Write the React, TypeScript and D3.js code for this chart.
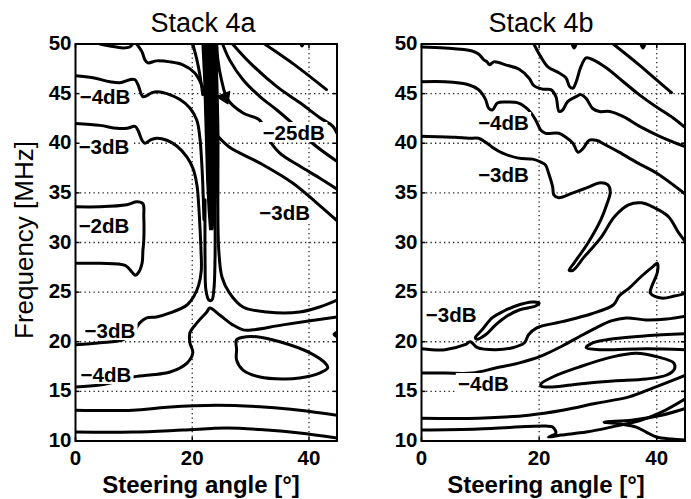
import React from 'react';
import * as d3 from 'd3';

type Pt = [number, number];

// ---------- axes ----------
const xTicks = [0, 20, 40];
const yTicks = [10, 15, 20, 25, 30, 35, 40, 45, 50];
const xGrid = [20, 40];
const yGrid = [15, 20, 25, 30, 35, 40, 45];
const xDomain: [number, number] = [0, 44.8];
const yDomain: [number, number] = [10, 50];

// ---------- Stack 4a contours (angle [deg], frequency [MHz]) ----------
const a_dip: Pt[] = [[4.2, 50], [5.9, 49.8], [8.1, 49.6], [9.3, 49.7], [9.8, 50]];
const a_b: Pt[] = [[10.5, 50], [11.4, 49.2], [11.9, 48.4], [12.4, 48.1], [13.9, 48.3], [16.2, 48.2], [18.4, 47.9], [20.4, 47.1], [21.6, 45.9], [22.5, 44.4], [22.8, 41.6], [23.0, 39.3], [23.2, 36.0], [23.4, 32.3]];
const a_e: Pt[] = [[20.1, 50], [20.8, 48.4], [21.3, 46.9], [21.8, 44.9]];
const a_m4up: Pt[] = [[0, 46.8], [3.0, 46.6], [5.9, 46.2], [7.6, 46.1], [9.3, 46.4], [10.2, 46.4], [10.7, 45.9], [11.55, 44.7], [12.2, 44.8], [13.1, 45.1], [14.1, 45.2], [15.65, 45.0], [17.9, 44.4], [19.6, 43.55], [20.8, 42.3], [21.3, 40.6], [21.6, 38.3], [21.8, 36.0], [22.0, 32.3]];
const a_m3outer: Pt[] = [[0, 42.0], [4.2, 41.8], [7.1, 41.5], [8.8, 41.5], [10.2, 41.7], [10.7, 41.3], [11.4, 40.3], [11.9, 40.0], [12.75, 40.3], [13.9, 40.5], [15.65, 40.3], [17.4, 39.7], [19.1, 38.6], [20.1, 37.5], [20.8, 35.8], [21.1, 33.8], [21.3, 31.8], [21.5, 29.2], [21.55, 27.2], [21.1, 25.7], [20.3, 24.6], [19.1, 23.7], [16.2, 22.9], [13.9, 22.5], [12.2, 22.4], [11.0, 21.9], [9.8, 20.9], [8.1, 20.2], [4.2, 19.9], [0, 19.7]];
const a_spikeRight: Pt[] = [[24.0, 50], [24.2, 46.4], [24.4, 41.3], [24.4, 36.3], [24.4, 32.3], [24.55, 29.2], [25.1, 26.5], [26.4, 24.9], [28.7, 23.5], [32.8, 23.0], [38.4, 23.0], [41.8, 23.5], [44.8, 24.2]];
const a_innerU: Pt[] = [[22.2, 34.3], [22.2, 28.2], [22.35, 25.2], [22.85, 24.2], [23.35, 24.2], [23.7, 25.2], [23.9, 28.2], [23.9, 34.3]];
const a_lineA: Pt[] = [[24.2, 50], [24.4, 48.4], [25.0, 46.4], [26.1, 44.4], [28.7, 43.05], [31.6, 42.3], [33.0, 40.5], [35.0, 39.0], [38.4, 37.7], [41.8, 36.5], [45, 35.3]];
const a_lineB: Pt[] = [[25.2, 50], [26.4, 48.4], [28.7, 46.4], [31.6, 44.7], [34.5, 43.35], [37.9, 41.6], [40.6, 40.0], [45, 38.1]];
const a_lineC: Pt[] = [[26.9, 50], [29.9, 48.1], [34.5, 45.7], [38.4, 44.1], [41.8, 42.6], [44.1, 41.7], [44.8, 41.0]];
const a_lineD: Pt[] = [[32.4, 50], [37.55, 47.9], [43.0, 45.4]];
const a_m3right: Pt[] = [[24.4, 40.7], [26.4, 39.6], [31.6, 38.0], [37.2, 36.0], [41.3, 34.0], [45, 32.1]];
const a_m2: Pt[] = [[0, 33.6], [4.2, 33.6], [8.8, 33.8], [10.5, 34.1], [11.55, 33.9], [11.7, 32.6], [11.7, 30.25], [11.55, 29.2], [11.4, 27.9], [10.7, 26.9], [10.2, 26.7], [9.7, 27.0], [8.5, 27.7], [4.2, 27.9], [0, 27.9]];
const a_m4low: Pt[] = [[0, 15.45], [4.2, 15.65], [8.1, 16.15], [9.8, 16.45], [12.75, 16.65], [16.2, 16.95], [19.1, 17.85], [20.1, 18.9], [19.6, 19.9], [19.6, 20.9], [20.8, 21.9], [22.5, 23.0], [23.0, 23.4], [24.7, 22.7], [26.95, 21.7], [28.7, 21.2], [30.4, 21.2], [35.5, 21.7], [44.8, 22.5]];
const a_low1: Pt[] = [[0, 13.1], [9.8, 13.1], [15.65, 13.4], [24.2, 13.6], [32.8, 13.4], [38.4, 13.1], [44.8, 12.6]];
const a_low2: Pt[] = [[0, 10.9], [9.8, 10.9], [18.4, 11.1], [25.9, 11.3], [32.8, 11.1], [38.4, 10.8], [44.8, 10.3]];
const a_edgeLoop: Pt[] = [[44.9, 21.0], [44.3, 20.75], [44.9, 20.45]];
const a_topDot: Pt[] = [[38.6, 50], [38.8, 49.8], [39.0, 50]];
// closed
const a_island: Pt[] = [[27.6, 20.2], [29.3, 20.5], [31.05, 20.5], [35.0, 20.0], [40.1, 18.9], [43.0, 17.7], [43.2, 17.35], [41.8, 16.85], [38.4, 16.35], [35.5, 16.25], [31.6, 16.45], [28.7, 17.15], [27.6, 18.15], [27.6, 19.2]];
// filled (dense overlapping contours)
const a_band: Pt[] = [[21.7, 50], [22.0, 46.4], [22.25, 41.3], [22.5, 36.3], [22.75, 33.3], [23.0, 31.3], [23.5, 31.3], [23.95, 33.3], [24.3, 36.3], [24.3, 41.3], [24.3, 46.4], [24.2, 50]];
const a_arrow: Pt[] = [[24.2, 44.7], [26.4, 45.2], [26.1, 44.0]];

const a_labelText = ['−4dB', '−3dB', '−2dB', '−25dB', '−3dB', '−3dB', '−4dB'];
const a_labelPos: Pt[] = [[5.06, 44.66], [4.88, 39.72], [4.88, 31.76], [37.38, 41.13], [35.84, 33.07], [5.9, 21.18], [5.22, 16.75]];

// ---------- Stack 4b contours ----------
const b_topR: Pt[] = [[32.6, 50], [37.0, 47.9], [40.5, 46.1], [42.5, 45.1]];
const b_V: Pt[] = [[19.1, 50], [20.3, 48.7], [21.5, 47.7], [23.35, 47.1], [24.55, 46.6], [25.2, 45.7], [25.75, 45.55], [26.3, 46.2], [27.1, 47.7], [28.0, 48.6], [29.2, 48.4], [31.4, 47.6], [34.3, 46.2], [37.0, 44.9], [39.95, 43.65], [42.9, 42.5], [45, 41.5]];
const b_top: Pt[] = [[0, 49.7], [4.0, 49.6], [8.6, 49.3], [9.7, 49.0], [10.6, 48.4], [11.15, 48.2], [11.55, 47.9], [12.3, 48.2], [14.3, 47.9], [16.6, 47.45], [18.3, 46.55], [19.1, 45.8], [20.6, 45.45], [22.0, 45.4], [22.85, 44.7], [23.4, 43.2], [24.0, 43.35], [24.85, 44.2], [26.3, 44.7], [27.1, 44.9], [28.0, 44.5], [29.1, 43.5], [30.25, 43.2], [32.0, 43.2], [34.25, 42.7], [37.1, 41.7], [40.5, 40.7], [44.8, 39.65]];
const b_m4: Pt[] = [[0, 46.2], [4.0, 46.2], [8.0, 45.9], [9.7, 45.4], [10.9, 44.4], [11.4, 43.55], [12.05, 43.35], [12.9, 44.05], [14.3, 44.15], [16.5, 44.05], [18.2, 43.35], [19.4, 42.35], [20.3, 41.3], [21.1, 41.0], [23.35, 41.0], [24.55, 40.6], [25.75, 40.0], [26.6, 39.1], [27.5, 39.5], [28.5, 40.3], [29.7, 40.3], [31.4, 39.8], [33.6, 39.1], [36.5, 38.1], [39.95, 37.0], [45, 34.8]];
const b_m3: Pt[] = [[0, 40.7], [5.7, 40.6], [8.0, 40.5], [9.7, 40.5], [10.9, 40.1], [12.05, 39.6], [13.8, 39.0], [16.5, 38.5], [18.9, 38.4], [20.3, 38.1], [21.1, 37.8], [21.6, 37.0], [22.3, 35.6], [22.5, 34.8], [23.35, 34.5], [25.75, 35.0], [28.5, 35.6], [30.2, 36.0], [31.7, 35.8], [32.1, 35.1], [31.6, 34.0], [30.5, 32.3], [28.3, 29.95], [25.9, 27.9], [25.1, 27.2], [25.75, 27.2], [27.6, 28.5], [30.5, 30.5], [32.8, 32.6], [35.2, 33.8], [37.4, 34.0], [39.6, 33.5], [42.0, 32.6], [43.7, 31.0], [45, 30.0]];
const b_m3low: Pt[] = [[0, 19.3], [4.0, 19.2], [7.4, 19.7], [8.3, 20.0], [9.5, 19.4], [12.6, 19.2], [15.5, 19.4], [17.5, 19.9], [18.2, 20.7], [19.6, 21.4], [23.7, 22.0], [28.8, 22.8], [32.6, 23.7], [33.6, 24.6], [35.3, 25.4], [37.4, 26.6], [39.4, 27.6], [40.1, 27.9], [40.1, 27.0], [39.1, 25.5], [38.9, 24.9], [40.8, 24.4], [43.0, 24.6], [45, 24.9]];
const b_17: Pt[] = [[0, 16.85], [4.0, 16.85], [8.6, 16.85], [12.6, 17.35], [16.5, 17.85], [20.3, 18.55], [24.0, 19.6], [27.1, 20.6], [29.7, 21.4], [32.25, 22.1], [34.8, 22.4], [38.2, 22.2], [41.7, 22.3], [45, 22.6]];
const b_tongue: Pt[] = [[45, 20.8], [38.2, 20.6], [32.6, 20.3], [29.2, 19.9], [28.0, 19.4], [30.2, 19.2], [38.2, 19.3], [45, 19.2]];
const b_low1: Pt[] = [[0, 12.3], [9.7, 12.3], [18.2, 12.6], [24.0, 13.1], [29.7, 13.8], [35.3, 14.45], [39.4, 15.35], [42.9, 16.15], [45, 16.65]];
const b_low2: Pt[] = [[0, 11.1], [9.7, 11.2], [21.1, 11.5], [22.3, 11.4], [22.85, 10.8], [21.6, 10.4], [23.7, 10.6], [28.0, 10.9], [32.25, 11.4], [37.4, 12.1], [40.8, 12.9], [45, 14.3]];
const b_low3: Pt[] = [[45, 13.3], [40.8, 12.6], [35.7, 12.1], [31.05, 11.9], [34.0, 11.7], [36.5, 11.4], [38.2, 10.9], [39.95, 10.4], [42.5, 10.2], [45, 10.1]];
const b_dot1: Pt[] = [[25.6, 50], [25.95, 49.6], [26.3, 50]];
const b_dot2: Pt[] = [[37.3, 50], [37.65, 49.6], [38.0, 50]];
// closed
const b_island3: Pt[] = [[9.15, 20.4], [10.3, 21.2], [12.0, 22.4], [13.7, 23.0], [16.0, 23.6], [18.85, 24.0], [20.0, 23.9], [19.4, 23.6], [16.6, 23.2], [14.3, 22.5], [12.6, 21.7], [10.9, 20.7], [9.4, 20.25]];
const b_island4: Pt[] = [[20.3, 15.75], [22.3, 16.45], [26.8, 17.45], [32.25, 18.45], [36.5, 18.85], [40.3, 18.45], [42.9, 17.85], [43.0, 17.25], [41.7, 16.65], [38.2, 16.25], [32.6, 16.05], [26.8, 15.75], [22.3, 15.45], [20.3, 15.55]];

const b_labelText = ['−4dB', '−3dB', '−3dB', '−4dB'];
const b_labelPos: Pt[] = [[13.94, 42.14], [13.94, 36.9], [5.05, 22.7], [10.52, 15.84]];

// ---------- panels ----------
const panels = [
  {
    id: 'a', title: 'Stack 4a', x0: 75.5, x1: 337, titleX: 203, xlabelX: 201,
    open: [a_dip, a_b, a_e, a_m4up, a_m3outer, a_spikeRight, a_innerU, a_lineA, a_lineB, a_lineC, a_lineD, a_m3right, a_m2, a_m4low, a_low1, a_low2, a_edgeLoop, a_topDot],
    closed: [a_island],
    filled: [a_band, a_arrow],
    labelText: a_labelText, labelPos: a_labelPos,
  },
  {
    id: 'b', title: 'Stack 4b', x0: 421.5, x1: 685, titleX: 541, xlabelX: 546,
    open: [b_topR, b_V, b_top, b_m4, b_m3, b_m3low, b_17, b_tongue, b_low1, b_low2, b_low3, b_dot1, b_dot2],
    closed: [b_island3, b_island4],
    filled: [] as Pt[][],
    labelText: b_labelText, labelPos: b_labelPos,
  },
];

const Y0 = 44;
const Y1 = 441;
const FONT = '"Liberation Sans", Arial, Helvetica, sans-serif';

function Panel({ p }: { p: typeof panels[number] }) {
  const xs = d3.scaleLinear().domain(xDomain).range([p.x0, p.x1]);
  const ys = d3.scaleLinear().domain(yDomain).range([Y1, Y0]);
  const lineOpen = d3.line<Pt>().x(d => xs(d[0])).y(d => ys(d[1])).curve(d3.curveCatmullRom.alpha(0.5));
  const lineClosed = d3.line<Pt>().x(d => xs(d[0])).y(d => ys(d[1])).curve(d3.curveCatmullRomClosed.alpha(0.5));
  const lineFill = d3.line<Pt>().x(d => xs(d[0])).y(d => ys(d[1])).curve(d3.curveLinearClosed);
  const clipId = 'clip-' + p.id;
  const tickLen = 4;
  return (
    <g>
      <defs>
        <clipPath id={clipId}>
          <rect x={p.x0} y={Y0} width={p.x1 - p.x0} height={Y1 - Y0} />
        </clipPath>
      </defs>
      <rect x={p.x0} y={Y0} width={p.x1 - p.x0} height={Y1 - Y0} fill="#fff" />
      {/* grid */}
      <g stroke="#222" strokeWidth={1.3} strokeDasharray="1.3,3.2">
        {xGrid.map(v => <line key={'gx' + v} x1={xs(v)} x2={xs(v)} y1={Y0} y2={Y1} />)}
        {yGrid.map(v => <line key={'gy' + v} x1={p.x0} x2={p.x1} y1={ys(v)} y2={ys(v)} />)}
      </g>
      <g clipPath={`url(#${clipId})`}>
        <g fill="none" stroke="#000" strokeWidth={3} strokeLinejoin="round" strokeLinecap="round">
          {p.open.map((pts, i) => <path key={'o' + i} d={lineOpen(pts) || ''} />)}
          {p.closed.map((pts, i) => <path key={'c' + i} d={lineClosed(pts) || ''} />)}
        </g>
        <g fill="#000" stroke="#000" strokeWidth={1.5} strokeLinejoin="round">
          {p.filled.map((pts, i) => <path key={'f' + i} d={lineFill(pts) || ''} />)}
        </g>
        {/* contour labels */}
        {p.labelText.map((t, i) => {
          const cx = xs(p.labelPos[i][0]);
          const cy = ys(p.labelPos[i][1]);
          const w = t.length * 12.3 + 6;
          return (
            <g key={'l' + i}>
              <rect x={cx - w / 2} y={cy - 10} width={w} height={20} fill="#fff" />
              <text x={cx} y={cy + 7.5} textAnchor="middle" fontFamily={FONT} fontWeight="bold" fontSize={20.5} fill="#000">{t}</text>
            </g>
          );
        })}
      </g>
      {/* frame */}
      <rect x={p.x0} y={Y0} width={p.x1 - p.x0} height={Y1 - Y0} fill="none" stroke="#000" strokeWidth={2} />
      {/* ticks */}
      <g stroke="#000" strokeWidth={1.5}>
        {xTicks.map(v => (
          <g key={'tx' + v}>
            <line x1={xs(v)} x2={xs(v)} y1={Y1} y2={Y1 - tickLen} />
            <line x1={xs(v)} x2={xs(v)} y1={Y0} y2={Y0 + tickLen} />
          </g>
        ))}
        {yTicks.map(v => (
          <g key={'ty' + v}>
            <line x1={p.x0} x2={p.x0 + tickLen} y1={ys(v)} y2={ys(v)} />
            <line x1={p.x1} x2={p.x1 - tickLen} y1={ys(v)} y2={ys(v)} />
          </g>
        ))}
      </g>
      {/* tick labels */}
      <g fontFamily={FONT} fontWeight="bold" fontSize={20.5} fill="#000">
        {xTicks.map(v => (
          <text key={'lx' + v} x={xs(v)} y={465} textAnchor="middle">{d3.format('d')(v)}</text>
        ))}
        {yTicks.map(v => (
          <text key={'ly' + v} x={p.x0 - 4} y={ys(v) + 6} textAnchor="end">{d3.format('d')(v)}</text>
        ))}
      </g>
      <text x={p.titleX} y={32} textAnchor="middle" fontFamily={FONT} fontSize={27} fill="#000">{p.title}</text>
      <text x={p.xlabelX} y={492.5} textAnchor="middle" fontFamily={FONT} fontWeight="bold" fontSize={24} fill="#000">Steering angle [°]</text>
    </g>
  );
}

export default function App() {
  return (
    <svg width={691} height={499} style={{ position: 'absolute', left: 0, top: 0, background: '#fff' }}>
      <rect width={691} height={499} fill="#fff" />
      {panels.map(p => <Panel key={p.id} p={p} />)}
      <text transform="translate(33,240) rotate(-90)" textAnchor="middle" fontFamily={FONT} fontSize={26} fill="#000">Frequency [MHz]</text>
    </svg>
  );
}
